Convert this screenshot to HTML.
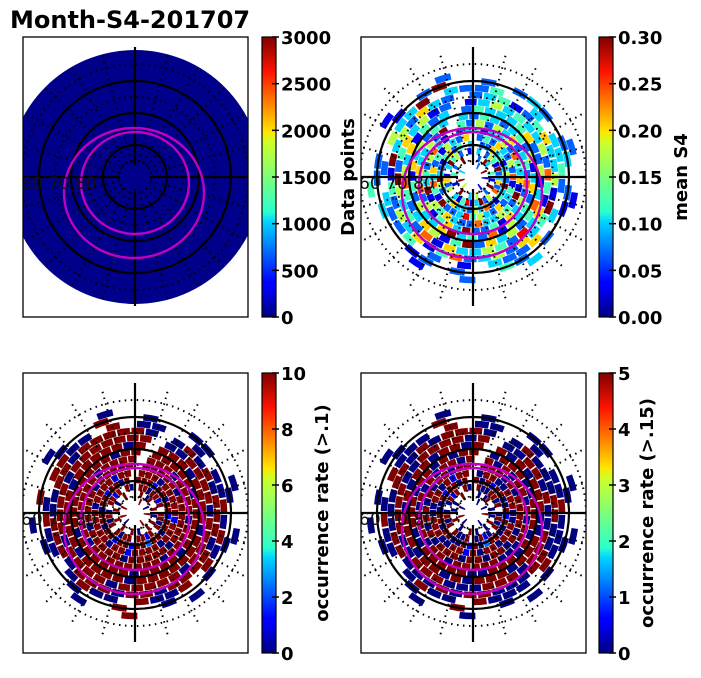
<!DOCTYPE html>
<html><head><meta charset="utf-8">
<style>
html,body{margin:0;padding:0;background:#fff;}
body{width:701px;height:674px;overflow:hidden;font-family:"DejaVu Sans","Liberation Sans",sans-serif;}
svg text{font-family:"DejaVu Sans","Liberation Sans",sans-serif;}
</style></head>
<body>
<svg id="fig" width="701" height="674" viewBox="0 0 701 674" xmlns="http://www.w3.org/2000/svg">
<defs>
<linearGradient id="jet" x1="0" y1="1" x2="0" y2="0">
<stop offset="0" stop-color="#00007f"/><stop offset="0.11" stop-color="#0000ff"/>
<stop offset="0.125" stop-color="#0000ff"/><stop offset="0.34" stop-color="#00d4ff"/>
<stop offset="0.375" stop-color="#29ffce"/><stop offset="0.5" stop-color="#7dff7a"/>
<stop offset="0.625" stop-color="#ceff29"/><stop offset="0.66" stop-color="#ffe600"/>
<stop offset="0.875" stop-color="#ff1300"/><stop offset="1" stop-color="#7f0000"/>
</linearGradient>
</defs>
<text x="10" y="28" font-size="24" font-weight="bold">Month-S4-201707</text>
</svg>
<script>
// ---- data ----
const ringRadii = [12,19,26,33,40,47,54,61,68,75,82,89,96,103];
const panel2Rings = [
"..2...9..1....1.......5..9...3......",
".2.93..4.1.9.2..5.3..9..1..4.2..9...",
"3.2541923627.529318413.5261.39452.1.",
"2263413529341273523364.2593214624.3.",
"4263252714326235483229147362415326.2",
"3352743619245337223645193425731.2341",
"5362342725361422936415274633529.4252",
"2342513624351724396335241635243.3243",
"3462251374253629415632475361423.2433",
"4335274163824533617243592463512.1353",
"2463351943625327416352419352632.2341",
"3.3342.3.6223.1.2.4223.2.5339.3224..",
"2.23.21.2.24..2.21..3.22..1.29..2.23",
"..2..1...3...2..1....4...1...2......"];
const panel3Rings = [
"..9...0..9....9.......0..9...9......",
".9.09..9.0.9.9..0.9..9..9..9.0..9...",
"9909919.9909.9199.9909.9090.9919.90.",
"9919909919909929919919909909919909.9",
"9909999919990999919909999909999199.9",
"9999099999909999909999909999099999.9",
"9909999099990999999990999999909999.9",
"9999099999099990999999099999999099.9",
"9909999099999990999909999909999909.9",
"0999909999099999099990999909999999.0",
"9090999099990990999099900990999990.0",
"0.0090909.9009.0090.0090.9900.9.00..",
"0..0..0.0..0..9..0..0..9..0..9..0..0",
"..0..0...0...9..0....0...0...0......"];
const panel4Rings = [
"..0...0..9....0.......0..9...0......",
".0.09..0.0.9.0..0.9..0..9..0.0..9...",
"9009909.0909.0190.9009.9090.0919.90.",
"0919900919009920919009909900919909.9",
"9900999009990990919900999009909199.0",
"9909099990909909909990909909099099.9",
"0909909099000999990990999090909909.9",
"9990099909099900999990099909909099.0",
"0909990099909990909909990909909909.9",
"0990900999099900099900999900999909.0",
"9000990099000990900099000990909990.0",
"0.0090009.0009.0090.0090.9000.9.00..",
"0..0..0.0..0..9..0..0..0..0..9..0..0",
"..0..0...0...0..0....0...0...0......"];
const cb1Ticks = [0,500,1000,1500,2000,2500,3000];
const cb2Ticks = ["0.00","0.05","0.10","0.15","0.20","0.25","0.30"];
const cb3Ticks = [0,2,4,6,8,10];
const cb4Ticks = [0,1,2,3,4,5];

// ---- helpers ----
const NS="http://www.w3.org/2000/svg", svg=document.getElementById('fig');
function mk(tag,attrs,parent){const e=document.createElementNS(NS,tag);for(const k in attrs)e.setAttribute(k,attrs[k]);(parent||svg).appendChild(e);return e;}
function jet(v){v=Math.max(0,Math.min(1,v));
 const r=Math.max(0,Math.min(1,1.5-Math.abs(4*v-3))),g=Math.max(0,Math.min(1,1.5-Math.abs(4*v-2))),b=Math.max(0,Math.min(1,1.5-Math.abs(4*v-1)));
 return `rgb(${Math.round(r*255)},${Math.round(g*255)},${Math.round(b*255)})`;}
function rScale(r){return r;}
function ang(i,ri){return (i*10-90+ri*3.7)*Math.PI/180;}
function sector(cx,cy,r0,r1,a0,a1){
 const p=(r,a)=>[(cx+r*Math.cos(a)).toFixed(2),(cy+r*Math.sin(a)).toFixed(2)];
 const A=p(r1,a0),B=p(r1,a1),C=p(r0,a1),D=p(r0,a0);
 return `M${A}A${r1},${r1} 0 0 1 ${B}L${C}A${r0},${r0} 0 0 0 ${D}Z`;}

function panel(id,x,y,cx,cy,rings,fillAll){
 const g=mk('g',{});
 
 
 const clip=mk('clipPath',{id:id+'-clip'},g);mk('rect',{x:x,y:y,width:225,height:280},clip);
 const inner=mk('g',{'clip-path':`url(#${id}-clip)`},g);
 if(fillAll){
  const d=mk('circle',{cx:cx,cy:cy,r:127,fill:'#00008b'},inner);
  
  
 } else {
  rings.forEach((s,ri)=>{const r=rScale(ringRadii[ri]);
   for(let i=0;i<s.length;i++){const ch=s[i];if(ch==='.')continue;
    const v=(+ch)/9;
    const c=mk('path',{d:sector(cx,cy,r-3.3,r+3.3,ang(i,ri)+0.01,ang(i+1,ri)-0.01),fill:jet(v)},inner);
    
    
   }});
 }
 [16,48,80,113].forEach(r=>mk('circle',{cx:cx,cy:cy,r:r,fill:'none',stroke:'#000','stroke-width':2,'stroke-dasharray':'1.5 4.5'},inner));
 for(let k=0;k<24;k++){const a=k*15*Math.PI/180;
  mk('line',{x1:cx+16*Math.cos(a),y1:cy+16*Math.sin(a),x2:cx+126*Math.cos(a),y2:cy+126*Math.sin(a),stroke:'#000','stroke-width':2,'stroke-dasharray':'1.5 4.5'},inner);}
 [32,64,96].forEach(r=>mk('circle',{cx:cx,cy:cy,r:r,fill:'none',stroke:'#000','stroke-width':2.2},inner));
 mk('line',{x1:cx,y1:cy-130,x2:cx,y2:cy-12,stroke:'#000','stroke-width':2.2},inner);
 mk('line',{x1:cx,y1:cy+12,x2:cx,y2:cy+129,stroke:'#000','stroke-width':2.2},inner);
 mk('line',{x1:x,y1:cy,x2:cx-15,y2:cy,stroke:'#000','stroke-width':2.2},inner);
 mk('line',{x1:cx+15,y1:cy,x2:x+225,y2:cy,stroke:'#000','stroke-width':2.2},inner);
 mk('ellipse',{cx:cx-1,cy:cy+16,rx:70,ry:65,fill:'none',stroke:'#c000c0','stroke-width':2.4},inner);
 mk('ellipse',{cx:cx,cy:cy+6,rx:54,ry:51,fill:'none',stroke:'#c000c0','stroke-width':2.4},inner);
 const lb=mk('text',{x:cx-114,y:cy+12,'font-size':17,fill:'#111'},inner);lb.textContent='60 70 80';
 
 
 const fr=mk('rect',{x:x,y:y,width:225,height:280,fill:'none',stroke:'#000','stroke-width':1.3},g);
 
 
}
function colorbar(id,x,y,ticks,label,lx){
 const g=mk('g',{});
 
 
 mk('rect',{x:x,y:y,width:14,height:280,fill:'url(#jet)',stroke:'#000','stroke-width':1.2},g);
 const n=ticks.length-1;
 ticks.forEach((t,i)=>{const ty=y+280-i*280/n;
  mk('line',{x1:x+10,y1:ty,x2:x+17,y2:ty,stroke:'#000','stroke-width':1.5},g);
  const tx=mk('text',{x:x+19,y:ty+7,'font-size':18,'font-weight':'bold'},g);tx.textContent=t;
  
  });
 const lt=mk('text',{x:lx,y:y+140,'font-size':18,'font-weight':'bold','text-anchor':'middle',transform:`rotate(-90 ${lx} ${y+140})`},g);
 lt.textContent=label;
 
 
}
panel('panel-data-points',23,37,135,177,null,true);
panel('panel-mean-s4',361,37,473,177,panel2Rings,false);
panel('panel-occ-01',23,373,135,513,panel3Rings,false);
panel('panel-occ-015',361,373,473,513,panel4Rings,false);
colorbar('colorbar-data-points',262,37,cb1Ticks,'Data points',354);
colorbar('colorbar-mean-s4',599,37,cb2Ticks,'mean S4',687);
colorbar('colorbar-occ-01',262,373,cb3Ticks,'occurrence rate (>.1)',328);
colorbar('colorbar-occ-015',599,373,cb4Ticks,'occurrence rate (>.15)',653);
</script>
</body></html>
